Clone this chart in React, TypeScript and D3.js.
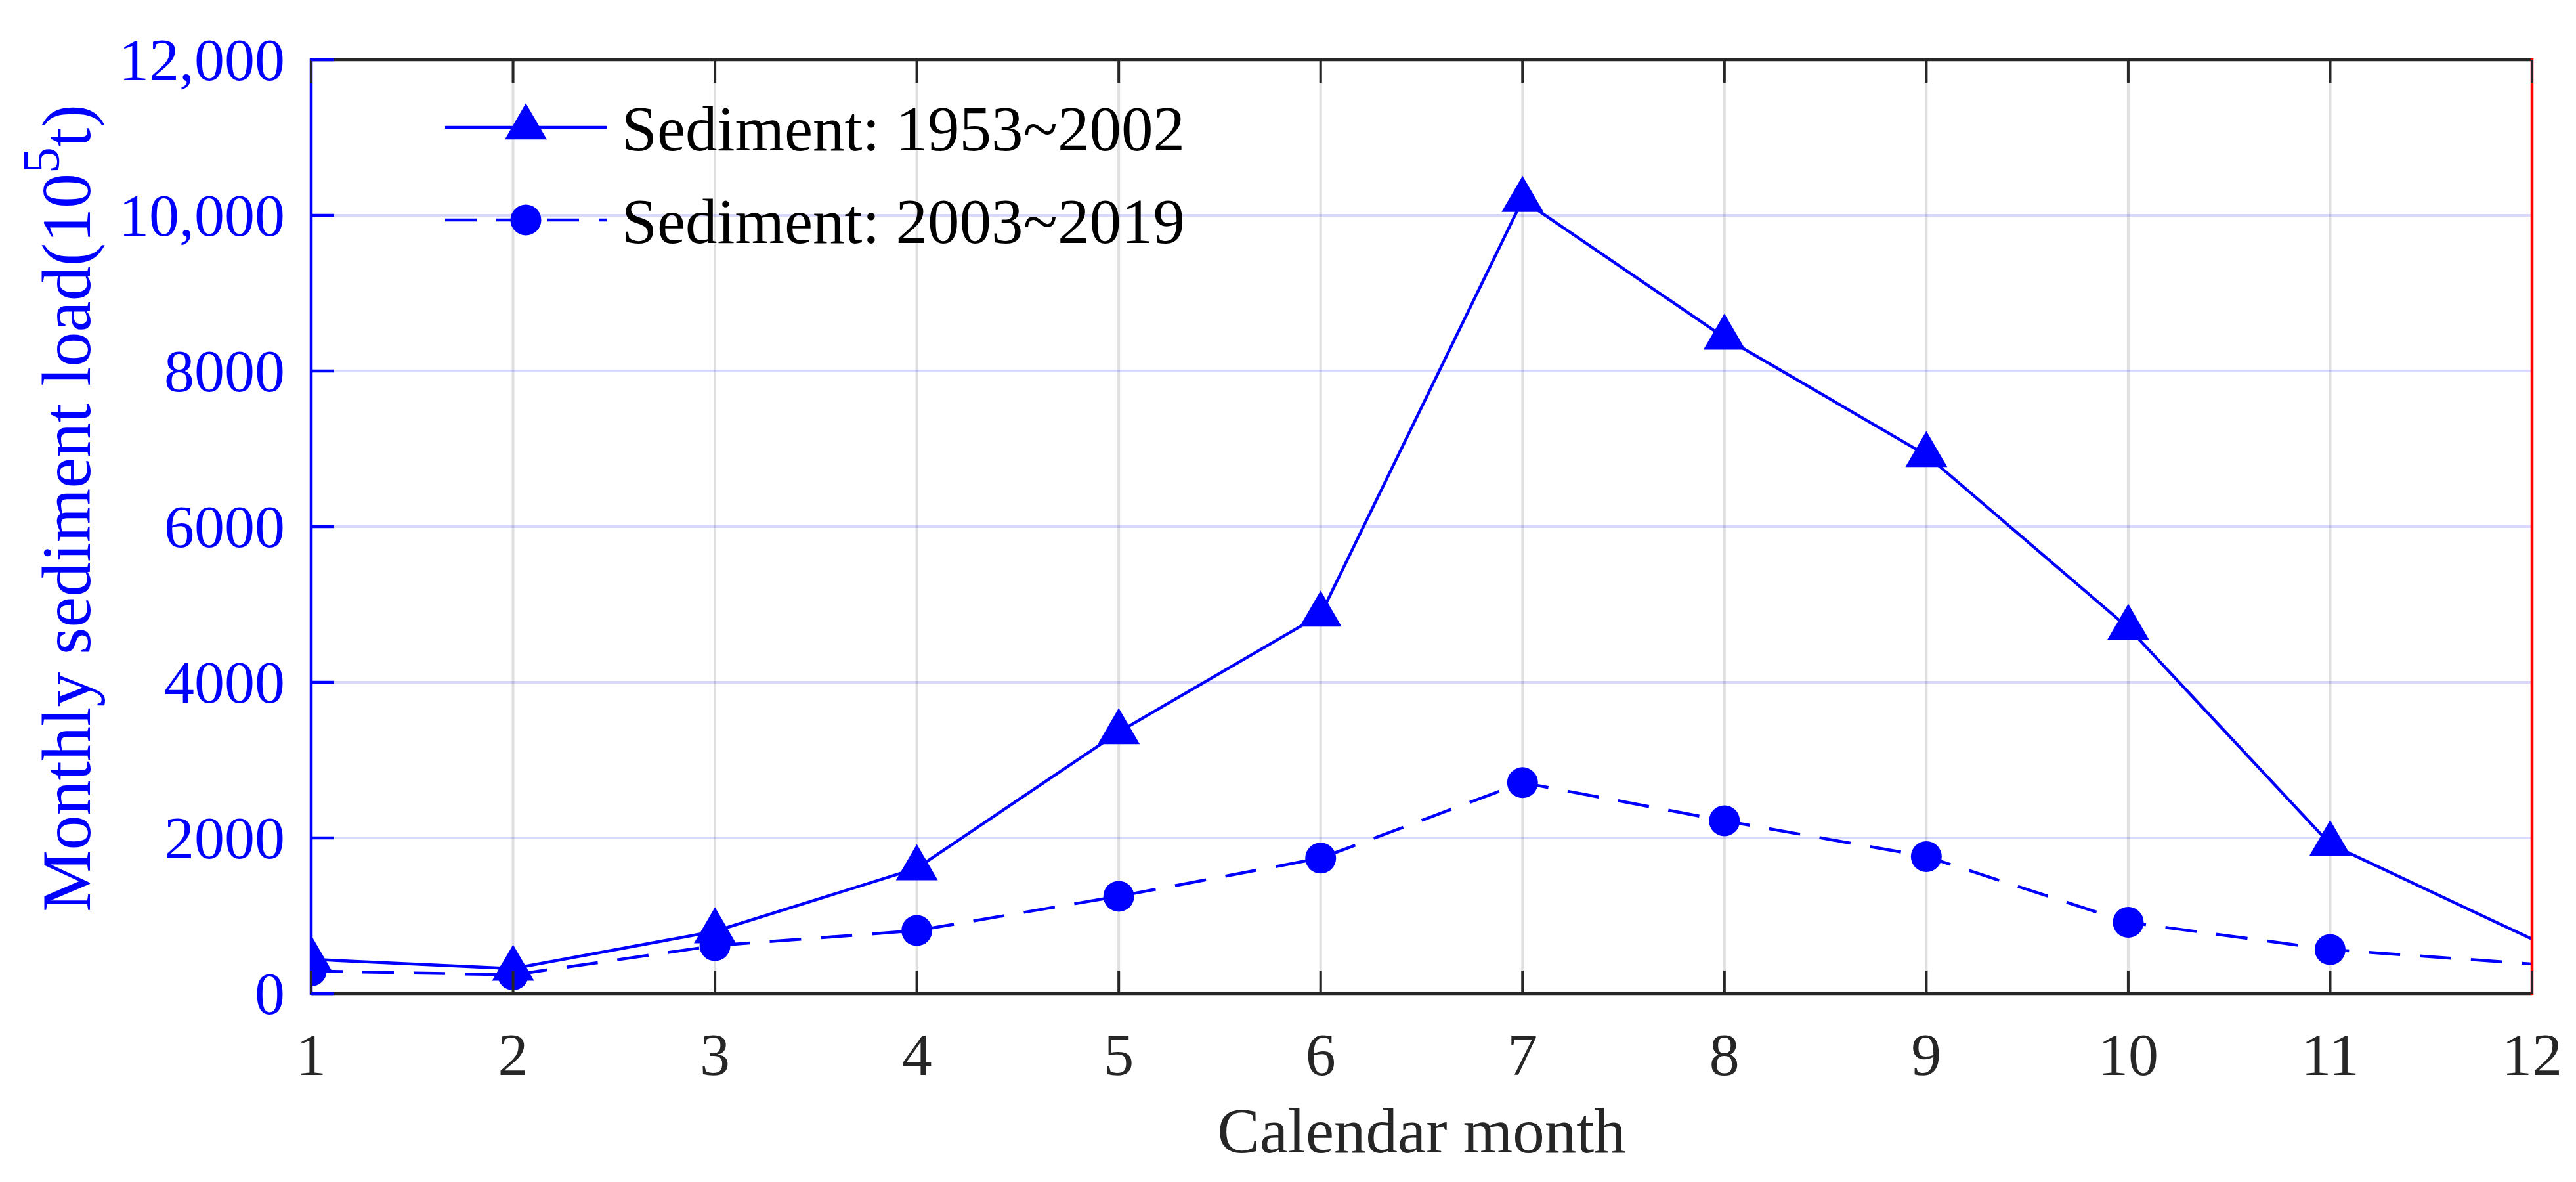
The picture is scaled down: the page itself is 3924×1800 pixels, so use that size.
import { useEffect, useRef } from "react";
import * as d3 from "d3";

const months = [1, 2, 3, 4, 5, 6, 7, 8, 9, 10, 11, 12];
const sed1953 = [440, 320, 800, 1610, 3360, 4870, 10200, 8430, 6920, 4700, 1920, 700];
const sed2003 = [290, 240, 615, 810, 1250, 1740, 2710, 2220, 1760, 915, 565, 380];
const yTicks = [0, 2000, 4000, 6000, 8000, 10000, 12000];
const seriesNames = ["Sediment: 1953~2002", "Sediment: 2003~2019"];

const W = 3924;
const H = 1800;
const m = { l: 474, r: 3857, t: 91, b: 1513 };
const BLUE = "#0000ff";
const DARK = "#262626";
const FONT = "'Liberation Serif', 'Times New Roman', serif";

const App = () => {
  const svgRef = useRef(null);

  useEffect(() => {
    const svg = d3.select(svgRef.current);
    svg.selectAll("*").remove();

    const x = d3.scaleLinear().domain([1, 12]).range([m.l, m.r]);
    const y = d3.scaleLinear().domain([0, 12000]).range([m.b, m.t]);

    svg
      .append("defs")
      .append("clipPath")
      .attr("id", "plot")
      .append("rect")
      .attr("x", m.l)
      .attr("y", m.t)
      .attr("width", m.r - m.l)
      .attr("height", m.b - m.t);

    // grid
    svg
      .append("g")
      .selectAll("line")
      .data(months)
      .join("line")
      .attr("x1", (d) => x(d))
      .attr("x2", (d) => x(d))
      .attr("y1", m.t)
      .attr("y2", m.b)
      .attr("stroke", DARK)
      .attr("stroke-opacity", 0.15)
      .attr("stroke-width", 4);
    svg
      .append("g")
      .selectAll("line")
      .data(yTicks)
      .join("line")
      .attr("x1", m.l)
      .attr("x2", m.r)
      .attr("y1", (d) => y(d))
      .attr("y2", (d) => y(d))
      .attr("stroke", BLUE)
      .attr("stroke-opacity", 0.15)
      .attr("stroke-width", 4);

    // data lines
    const line = d3
      .line<number>()
      .x((d, i) => x(months[i]))
      .y((d) => y(d));
    const plot = svg.append("g").attr("clip-path", "url(#plot)");
    plot
      .append("path")
      .attr("d", line(sed1953))
      .attr("fill", "none")
      .attr("stroke", BLUE)
      .attr("stroke-width", 4.5);
    plot
      .append("path")
      .attr("d", line(sed2003))
      .attr("fill", "none")
      .attr("stroke", BLUE)
      .attr("stroke-width", 4.5)
      .attr("stroke-dasharray", "48,30");

    // markers (months 1-11 only)
    const tri = (cx, cy) => {
      const h = 55, w = 64;
      return `M${cx},${cy - (2 * h) / 3}L${cx + w / 2},${cy + h / 3}L${cx - w / 2},${cy + h / 3}Z`;
    };
    plot
      .selectAll(".tri")
      .data(sed1953.slice(0, 11))
      .join("path")
      .attr("d", (d, i) => tri(x(months[i]), y(d)))
      .attr("fill", BLUE);
    plot
      .selectAll(".dot")
      .data(sed2003.slice(0, 11))
      .join("circle")
      .attr("cx", (d, i) => x(months[i]))
      .attr("cy", (d) => y(d))
      .attr("r", 23.5)
      .attr("fill", BLUE);

    // axes box
    const axes = svg.append("g").attr("stroke-width", 4.5);
    axes.append("line").attr("x1", m.l).attr("x2", m.r).attr("y1", m.t).attr("y2", m.t).attr("stroke", DARK);
    axes.append("line").attr("x1", m.l).attr("x2", m.r).attr("y1", m.b).attr("y2", m.b).attr("stroke", DARK);
    axes.append("line").attr("x1", m.r).attr("x2", m.r).attr("y1", m.t - 2).attr("y2", m.b + 2).attr("stroke", "#ff0000");
    axes.append("line").attr("x1", m.l).attr("x2", m.l).attr("y1", m.t - 2).attr("y2", m.b + 2).attr("stroke", BLUE);

    // x ticks top and bottom
    const tl = 35;
    axes
      .selectAll(".xtb")
      .data(months)
      .join("line")
      .attr("x1", (d) => x(d))
      .attr("x2", (d) => x(d))
      .attr("y1", m.b)
      .attr("y2", m.b - tl)
      .attr("stroke", DARK)
      .attr("stroke-width", 4);
    axes
      .selectAll(".xtt")
      .data(months)
      .join("line")
      .attr("x1", (d) => x(d))
      .attr("x2", (d) => x(d))
      .attr("y1", m.t)
      .attr("y2", m.t + tl)
      .attr("stroke", DARK)
      .attr("stroke-width", 4);
    axes
      .selectAll(".yt")
      .data(yTicks)
      .join("line")
      .attr("x1", m.l)
      .attr("x2", m.l + tl)
      .attr("y1", (d) => y(d))
      .attr("y2", (d) => y(d))
      .attr("stroke", BLUE)
      .attr("stroke-width", 4.5);

    // tick labels
    svg
      .append("g")
      .selectAll("text")
      .data(months)
      .join("text")
      .attr("x", (d) => x(d))
      .attr("y", 1637)
      .attr("text-anchor", "middle")
      .attr("font-family", FONT)
      .attr("font-size", 92)
      .attr("fill", DARK)
      .text((d) => d);
    const fmt = (v) => (v >= 10000 ? d3.format(",")(v) : String(v));
    svg
      .append("g")
      .selectAll("text")
      .data(yTicks)
      .join("text")
      .attr("x", 434)
      .attr("y", (d) => y(d) + 31)
      .attr("text-anchor", "end")
      .attr("font-family", FONT)
      .attr("font-size", 92)
      .attr("fill", BLUE)
      .text((d) => fmt(d));

    // axis labels
    svg
      .append("text")
      .attr("x", (m.l + m.r) / 2)
      .attr("y", 1755)
      .attr("text-anchor", "middle")
      .attr("font-family", FONT)
      .attr("font-size", 97)
      .attr("fill", DARK)
      .text("Calendar month");

    const yl = svg
      .append("text")
      .attr("transform", "translate(137,774) rotate(-90)")
      .attr("text-anchor", "middle")
      .attr("font-family", FONT)
      .attr("font-size", 106)
      .attr("fill", BLUE);
    yl.append("tspan").text("Monthly sediment load(10");
    yl.append("tspan").attr("dy", -47).attr("font-size", 80).text("5");
    yl.append("tspan").attr("dy", 47).text("t)");

    // legend
    const rows = [194, 335];
    const lg = svg.append("g");
    rows.forEach((ry, i) => {
      lg.append("line")
        .attr("x1", 678)
        .attr("x2", 924)
        .attr("y1", ry)
        .attr("y2", ry)
        .attr("stroke", BLUE)
        .attr("stroke-width", 4.5)
        .attr("stroke-dasharray", i === 1 ? "48,30" : null);
      if (i === 0) lg.append("path").attr("d", tri(801, ry)).attr("fill", BLUE);
      else lg.append("circle").attr("cx", 801).attr("cy", ry).attr("r", 23.5).attr("fill", BLUE);
      lg.append("text")
        .attr("x", 947)
        .attr("y", ry + 35)
        .attr("font-family", FONT)
        .attr("font-size", 97)
        .attr("fill", "#000")
        .text(seriesNames[i]);
    });
  }, []);

  return (
    <div style={{ position: "absolute", left: 0, top: 0, background: "#fff" }}>
      <svg ref={svgRef} width={W} height={H} style={{ display: "block" }}></svg>
    </div>
  );
};

export default App;
